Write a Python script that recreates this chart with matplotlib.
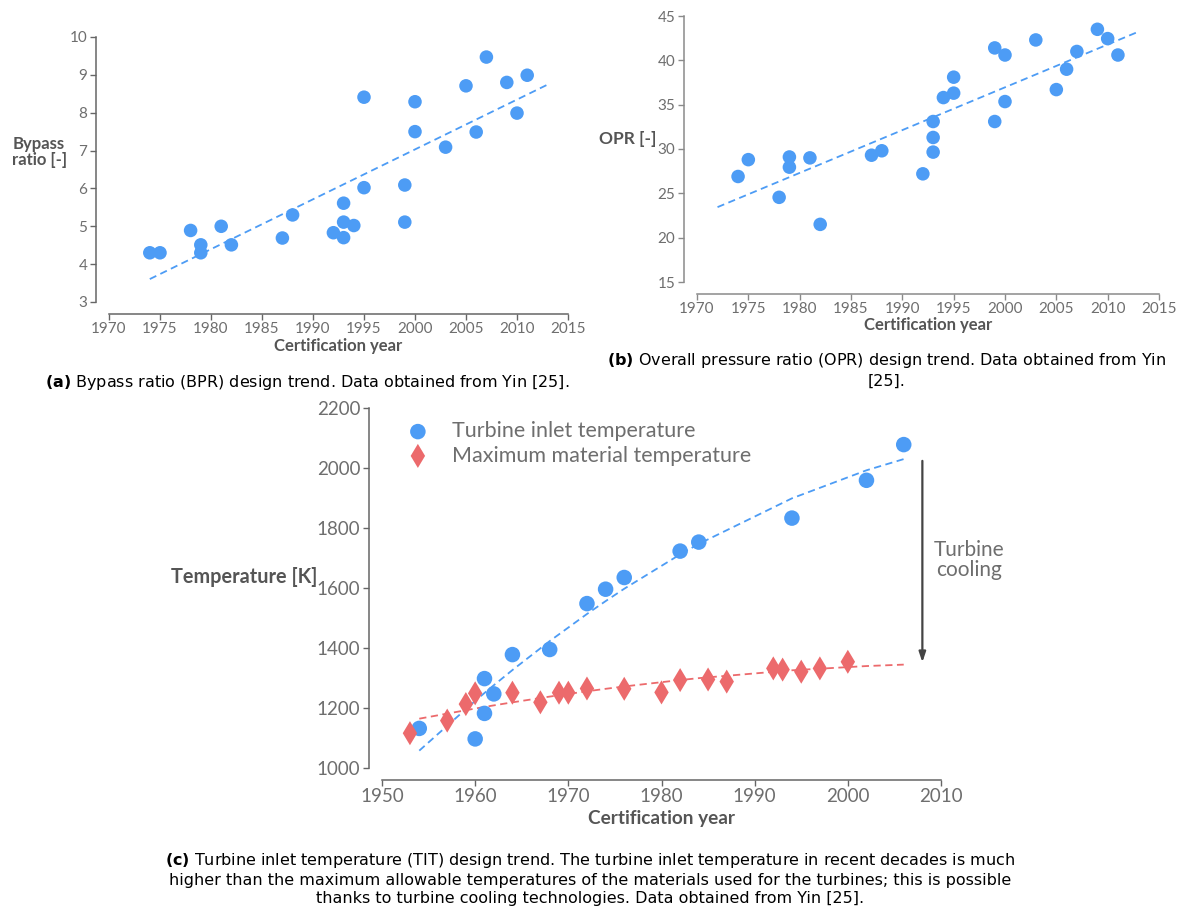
import numpy as np
import matplotlib
matplotlib.use('Agg')
import matplotlib.pyplot as plt

# DATA
bpr_years = [1974, 1975, 1978, 1979, 1979, 1981, 1982, 1987, 1988, 1992, 1993, 1993, 1993, 1994,
             1995, 1995, 1999, 1999, 2000, 2000, 2003, 2005, 2006, 2007, 2009, 2010, 2011]
bpr_values = [4.30, 4.30, 4.89, 4.51, 4.30, 5.00, 4.51, 4.69, 5.30, 4.83, 5.61, 5.11, 4.70, 5.02,
              8.41, 6.02, 6.09, 5.11, 8.29, 7.50, 7.09, 8.71, 7.49, 9.47, 8.80, 7.99, 8.99]
bpr_trend_range = [1974, 2013]

opr_years = [1974, 1975, 1978, 1979, 1979, 1981, 1982, 1987, 1988, 1992, 1993, 1993, 1993, 1994,
             1995, 1995, 1999, 1999, 2000, 2000, 2003, 2005, 2006, 2007, 2009, 2010, 2011]
opr_values = [26.9, 28.8, 24.55, 29.1, 27.95, 29.0, 21.5, 29.3, 29.8, 27.2, 33.1, 31.3, 29.65, 35.8,
              38.1, 36.3, 41.4, 33.1, 40.6, 35.35, 42.3, 36.7, 39.0, 41.0, 43.5, 42.45, 40.6]
opr_trend_range = [1972, 2013]

tit_years = [1954, 1960, 1961, 1961, 1962, 1964, 1968, 1972, 1974, 1976, 1982, 1984, 1994, 2002, 2006]
tit_values = [1132, 1097, 1298, 1182, 1247, 1378, 1395, 1548, 1596, 1635, 1723, 1753, 1833, 1959, 2078]

mat_years = [1953, 1957, 1959, 1960, 1964, 1967, 1969, 1970, 1972, 1976, 1980, 1982, 1985, 1987,
             1992, 1993, 1995, 1997, 2000]
mat_values = [1116, 1158, 1213, 1249, 1251, 1219, 1251, 1251, 1265, 1264, 1252, 1293, 1295, 1288,
              1332, 1328, 1321, 1332, 1354]

blue = '#4d9cf5'
red = '#ec6a6c'
grey = '#555555'
light = '#6e6e6e'

plt.rcParams['font.family'] = ['Lato', 'DejaVu Sans']
plt.rcParams['mathtext.fontset'] = 'custom'
plt.rcParams['mathtext.bf'] = 'DejaVu Sans:bold'
plt.rcParams['mathtext.rm'] = 'DejaVu Sans'

fig = plt.figure(figsize=(11.82, 9.10), dpi=100)
W, H = 1182, 910


def px_axes(x0, x1, y_top, y_bot):
    return fig.add_axes([x0 / W, 1 - y_bot / H, (x1 - x0) / W, (y_bot - y_top) / H])


def style(ax, fs, spine_col):
    for s in ['top', 'right']:
        ax.spines[s].set_visible(False)
    ax.spines['left'].set_position(('outward', 9.5))
    ax.spines['bottom'].set_position(('outward', 8.5))
    for s in ['left', 'bottom']:
        ax.spines[s].set_color(spine_col)
        ax.spines[s].set_linewidth(1.1)
    ax.tick_params(colors=spine_col, labelcolor=light, labelsize=fs, length=4, width=1.0, pad=2)


def trend(years, values, x_eval, deg=1):
    coef = np.polyfit(years, values, deg)
    return np.polyval(coef, x_eval)


# (a) BYPASS RATIO
ax1 = px_axes(109, 568, 37, 302)
ax1.scatter(bpr_years, bpr_values, s=95, color=blue, edgecolor='none', zorder=3)
xa = np.array(bpr_trend_range)
ax1.plot(xa, trend(bpr_years, bpr_values, xa), color=blue, lw=1.3, ls=(0, (4, 2.5)))
ax1.set_xlim(1970, 2015)
ax1.set_ylim(3, 10)
ax1.set_xticks(range(1970, 2016, 5))
ax1.set_yticks(range(3, 11))
style(ax1, 11, '#666666')
ax1.set_xlabel('Certification year', fontsize=12, fontweight='bold', color=grey)
ax1.xaxis.set_label_coords(0.5, -0.166)
ax1.xaxis.label.set_va('center')
ax1.set_ylabel('Bypass\nratio [-]', fontsize=12, fontweight='bold', color=grey,
               rotation=0, ha='left', va='center', linespacing=1.0)
ax1.yaxis.set_label_coords(-0.211, 0.566)

# (b) OPR
ax2 = px_axes(697, 1159, 16, 282)
ax2.scatter(opr_years, opr_values, s=95, color=blue, edgecolor='none', zorder=3)
xb = np.array(opr_trend_range)
ax2.plot(xb, trend(opr_years, opr_values, xb), color=blue, lw=1.3, ls=(0, (4, 2.5)))
ax2.set_xlim(1970, 2015)
ax2.set_ylim(15, 45)
ax2.set_xticks(range(1970, 2016, 5))
ax2.set_yticks(range(15, 46, 5))
style(ax2, 11, '#8a8a8a')
ax2.set_xlabel('Certification year', fontsize=12, fontweight='bold', color=grey)
ax2.xaxis.set_label_coords(0.5, -0.162)
ax2.xaxis.label.set_va('center')
ax2.set_ylabel('OPR [-]', fontsize=12.5, fontweight='bold', color=grey,
               rotation=0, ha='right', va='center')
ax2.yaxis.set_label_coords(-0.089, 0.538)

# (c) TIT
ax3 = px_axes(382, 941, 408, 768)
ax3.scatter(tit_years, tit_values, s=125, color=blue, edgecolor='none', zorder=3,
            label='Turbine inlet temperature')
ax3.scatter(mat_years, mat_values, s=150, marker='d', color=red, edgecolor='none', zorder=3,
            label='Maximum material temperature')
xc = np.array(sorted(set(tit_years)))
ax3.plot(xc, trend(tit_years, tit_values, xc, 2), color=blue, lw=1.3, ls=(0, (4, 2.5)))
ax3.plot(xc, trend(mat_years, mat_values, xc, 2), color=red, lw=1.3, ls=(0, (4, 2.5)))
ax3.annotate('', xy=(2008, 1343), xytext=(2008, 2033),
             arrowprops=dict(arrowstyle='-|>,head_width=0.2,head_length=0.6', color='#444444', lw=1.6),
             annotation_clip=False)
ax3.text(2013, 1693, 'Turbine\ncooling', fontsize=15, color=light,
         ha='center', va='center', linespacing=1.0)
ax3.set_xlim(1950, 2010)
ax3.set_ylim(1000, 2200)
ax3.set_xticks(range(1950, 2011, 10))
ax3.set_yticks(range(1000, 2201, 200))
style(ax3, 13.5, '#666666')
ax3.set_xlabel('Certification year', fontsize=13.7, fontweight='bold', color=grey)
ax3.xaxis.set_label_coords(0.5, -0.139)
ax3.xaxis.label.set_va('center')
ax3.set_ylabel('Temperature [K]', fontsize=14.3, fontweight='bold', color=grey,
               rotation=0, ha='right', va='center')
ax3.yaxis.set_label_coords(-0.116, 0.531)
leg = ax3.legend(loc='upper left', bbox_to_anchor=(-0.009, 1.017), frameon=False, fontsize=15.5,
                 handletextpad=0.6, labelspacing=0.2)
for t in leg.get_texts():
    t.set_color(light)

# CAPTIONS
cap = dict(fontsize=11.5, ha='center', va='center', family='DejaVu Sans')
fig.text(307 / W, 1 - 383 / H, r'$\bf{(a)}$ Bypass ratio (BPR) design trend. Data obtained from Yin [25].', **cap)
fig.text(887 / W, 1 - 370 / H,
         r'$\bf{(b)}$ Overall pressure ratio (OPR) design trend. Data obtained from Yin' + '\n[25].',
         multialignment='center', linespacing=1.25, **cap)
fig.text(590 / W, 1 - 878 / H,
         r'$\bf{(c)}$ Turbine inlet temperature (TIT) design trend. The turbine inlet temperature in recent decades is much'
         + '\nhigher than the maximum allowable temperatures of the materials used for the turbines; this is possible'
         + '\nthanks to turbine cooling technologies. Data obtained from Yin [25].',
         multialignment='center', linespacing=1.25, **cap)

fig.savefig('out.png', dpi=100)
